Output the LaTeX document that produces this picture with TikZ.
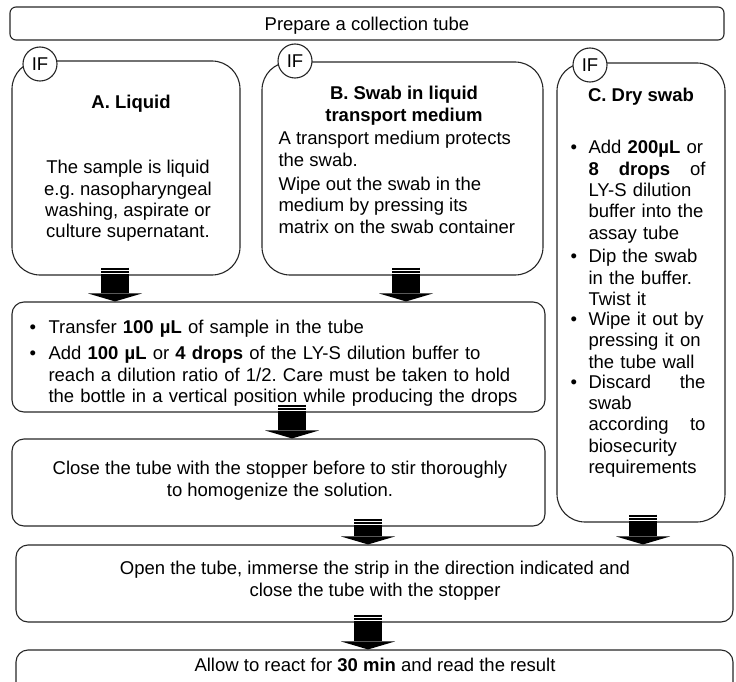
\documentclass[tikz,border=0pt]{standalone}
\usepackage{fontspec}
\setmainfont{Liberation Sans}
\usetikzlibrary{arrows.meta,fit}
\frenchspacing
\newcommand{\bul}[3]{\noindent\makebox[#1][l]{\textbullet}\parbox[t]{#2}{#3}\par}
\begin{document}
\begin{tikzpicture}[x=1pt, y=-1pt, line width=1.1pt, font=\fontsize{18.5}{21.3}\selectfont,
  flow box/.style={draw=black!85, rounded corners=12pt, inner sep=0pt},
  case box/.style={draw=black!85, rounded corners=28pt, inner sep=0pt},
  tag/.style={draw=black!85, circle, fill=white, minimum size=34pt, inner sep=0pt},
  txt/.style={inner sep=0pt},
  flow/.style={line width=28pt, shorten <=-8pt, dash pattern=on 2pt off 1.4pt on 2pt off 1.4pt on 500pt off 0pt, -{Triangle[width=54pt, length=8pt, line width=0pt]}}]
\useasboundingbox (0,0) rectangle (736,682);
\node[flow box, rounded corners=6pt, fit={(10,7) (724,40)}] (prep) {};
\node[txt, anchor=base] (prepText) at (367,30.5) {Prepare a collection tube};
\node[case box, fit={(12,61) (240,275)}] (A) {};
\node[case box, fit={(262,62) (543,275)}] (B) {};
\node[case box, fit={(557,63) (725,522)}] (C) {};
\node[tag] (ifA) at (40,64) {IF};
\node[tag] (ifB) at (295,61) {IF};
\node[tag] (ifC) at (590,65) {IF};
\node[txt, anchor=base] (titleA) at (131,108.5) {\textbf{A. Liquid}};
\node[txt, anchor=north, align=center] (bodyA) at (128,160) {The sample is liquid\\e.g. nasopharyngeal\\washing, aspirate or\\culture supernatant.};
\node[txt, anchor=north, align=center] (titleB) at (404,86) {\textbf{B. Swab in liquid}\\\textbf{transport medium}};
\node[txt, anchor=north west, align=left] (bodyB) at (278,131) {A transport medium protects\\the swab.\\[3pt]Wipe out the swab in the\\medium by pressing its\\matrix on the swab container};
\node[txt, anchor=base] (titleC) at (641,101.5) {\textbf{C. Dry swab}};
\node[txt, anchor=north west, text width=135pt] (bodyC) at (570,140) {%
  \bul{18pt}{117pt}{Add \textbf{200µL} or\\\makebox[117pt][l]{\textbf{8}\hfill\textbf{drops}\hfill of}\\LY-S dilution\\buffer into the\\assay tube}
  \vspace{5.5pt}
  \bul{18pt}{117pt}{Dip the swab\\in the buffer.\\Twist it}
  \vspace{5.5pt}
  \bul{18pt}{117pt}{Wipe it out by\\pressing it on\\the tube wall}
  \vspace{5.5pt}
  \bul{18pt}{117pt}{\makebox[117pt][l]{Discard\hfill the}\\swab\\\makebox[117pt][l]{according\hfill to}\\biosecurity\\requirements}};
\node[flow box, fit={(12,302) (545,412)}] (mix) {};
\node[txt, anchor=north west, text width=510pt] (mixText) at (29,320) {%
  \bul{19pt}{491pt}{Transfer \textbf{100 µL} of sample in the tube}
  \vspace{4.7pt}
  \bul{19pt}{491pt}{Add \textbf{100 µL} or \textbf{4 drops} of the LY-S dilution buffer to\\reach a dilution ratio of 1/2. Care must be taken to hold\\the bottle in a vertical position while producing the drops}};
\node[flow box, fit={(12,439) (545,526)}] (close) {};
\node[txt, anchor=north, align=center] (closeText) at (280,461) {Close the tube with the stopper before to stir thoroughly\\to homogenize the solution.};
\node[flow box, fit={(16,545) (733,622)}] (open) {};
\node[txt, anchor=north, align=center] (openText) at (375,561) {Open the tube, immerse the strip in the direction indicated and\\close the tube with the stopper};
\node[flow box, fit={(16,650) (733,720)}] (react) {};
\node[txt, anchor=base] (reactText) at (375,671.5) {Allow to react for \textbf{30 min} and read the result};
% arrow columns
\coordinate (colA) at (115,0);
\coordinate (colB) at (406,0);
\coordinate (colM) at (292,0);
\coordinate (colO) at (368,0);
\coordinate (colC) at (643,0);
\draw[flow] (colA |- A.south) -- (colA |- mix.north);
\draw[flow] (colB |- B.south) -- (colB |- mix.north);
\draw[flow] (colM |- mix.south) -- (colM |- close.north);
\draw[flow] (colO |- close.south) -- (colO |- open.north);
\draw[flow] (colC |- C.south) -- (colC |- open.north);
\draw[flow] (colO |- open.south) -- (colO |- react.north);
\end{tikzpicture}
\end{document}
